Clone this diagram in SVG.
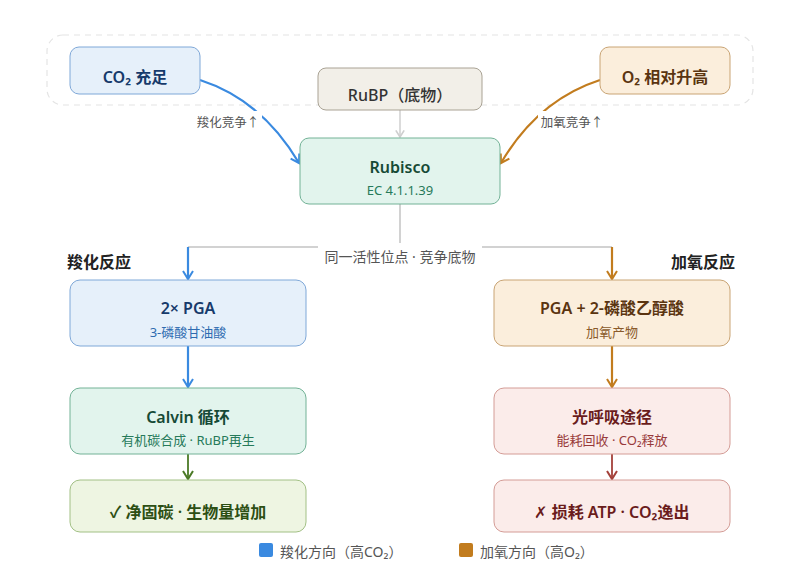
<svg xmlns="http://www.w3.org/2000/svg" width="800" height="588" viewBox="0 0 800 588">
<defs>
<style>
text{font-family:"Noto Sans","Noto Sans CJK SC",sans-serif;text-anchor:middle}
.t{font-size:16px;font-weight:600}
.s{font-size:13px}
.lbl{font-size:12.5px;fill:#555}
.mid{font-size:14px;fill:#555}
.sec{font-size:16px;font-weight:700;fill:#222}
.leg{font-size:14px;fill:#555;text-anchor:start}
.blue rect{fill:#e6f0fa;stroke:#7fa8d8}
.blue .t{fill:#163a6b}.blue .s{fill:#2e6bb0}
.org rect{fill:#fbeedc;stroke:#c9a474}
.org .t{fill:#5a3410}.org .s{fill:#8a5a2a}
.grn rect{fill:#e2f4ed;stroke:#72b296}
.grn .t{fill:#164a36}.grn .s{fill:#267a5a}
.lime rect{fill:#eef5e2;stroke:#a2c085}
.lime .t{fill:#2d4f14}
.red rect{fill:#fbecea;stroke:#d49c96}
.red .t{fill:#6a1c1c}.red .s{fill:#983a3a}
.grey rect{fill:#f2efe8;stroke:#a9a294}
.grey .t{fill:#333;font-weight:500}
.node rect{stroke-width:1}
</style>
<marker id="aB" viewBox="0 0 12 12" refX="10" refY="6" markerWidth="12" markerHeight="12" markerUnits="userSpaceOnUse" orient="auto"><path d="M2,1 L10,6 L2,11" fill="none" stroke="#3a8ae0" stroke-width="2"/></marker>
<marker id="aO" viewBox="0 0 12 12" refX="10" refY="6" markerWidth="12" markerHeight="12" markerUnits="userSpaceOnUse" orient="auto"><path d="M2,1 L10,6 L2,11" fill="none" stroke="#c27c1e" stroke-width="2"/></marker>
<marker id="aG" viewBox="0 0 12 12" refX="10" refY="6" markerWidth="10" markerHeight="10" markerUnits="userSpaceOnUse" orient="auto"><path d="M2,1 L10,6 L2,11" fill="none" stroke="#cfcfcf" stroke-width="2"/></marker>
<marker id="aL" viewBox="0 0 12 12" refX="10" refY="6" markerWidth="12" markerHeight="12" markerUnits="userSpaceOnUse" orient="auto"><path d="M2,1 L10,6 L2,11" fill="none" stroke="#4b7a26" stroke-width="2"/></marker>
<marker id="aR" viewBox="0 0 12 12" refX="10" refY="6" markerWidth="12" markerHeight="12" markerUnits="userSpaceOnUse" orient="auto"><path d="M2,1 L10,6 L2,11" fill="none" stroke="#a4413a" stroke-width="2"/></marker>
</defs>
<rect width="800" height="588" fill="#ffffff"/>
<rect x="47" y="35" width="706" height="70" rx="16" fill="none" stroke="#e4e4e4" stroke-width="1.2" stroke-dasharray="6 5"/>

<g id="connectors" fill="none">
<line x1="400" y1="110" x2="400" y2="137" stroke="#cfcfcf" stroke-width="1.5" marker-end="url(#aG)"/>
<path d="M200,80 Q262,100 299,163" stroke="#3a8ae0" stroke-width="2.2" marker-end="url(#aB)"/>
<path d="M600,80 Q538,100 501,163" stroke="#c27c1e" stroke-width="2.2" marker-end="url(#aO)"/>
<path d="M400,204 L400,247 M188,247 L612,247" stroke="#d2d2d2" stroke-width="2"/>
<line x1="188" y1="247" x2="188" y2="279" stroke="#3a8ae0" stroke-width="2.2" marker-end="url(#aB)"/>
<line x1="612" y1="247" x2="612" y2="279" stroke="#c27c1e" stroke-width="2.2" marker-end="url(#aO)"/>
<line x1="188" y1="346" x2="188" y2="387" stroke="#3a8ae0" stroke-width="2.2" marker-end="url(#aB)"/>
<line x1="612" y1="346" x2="612" y2="387" stroke="#c27c1e" stroke-width="2.2" marker-end="url(#aO)"/>
<line x1="188" y1="454" x2="188" y2="479" stroke="#4b7a26" stroke-width="1.8" marker-end="url(#aL)"/>
<line x1="612" y1="454" x2="612" y2="479" stroke="#a4413a" stroke-width="1.8" marker-end="url(#aR)"/>
<rect x="194" y="111" width="68" height="20" fill="#ffffff"/>
<text class="lbl" x="228" y="127">羧化竞争↑</text>
<rect x="538" y="111" width="68" height="20" fill="#ffffff"/>
<text class="lbl" x="572" y="127">加氧竞争↑</text>
<rect x="318" y="243" width="164" height="26" fill="#ffffff"/>
<text class="mid" x="400" y="262">同一活性位点 · 竞争底物</text>
</g>

<g id="co2" class="node blue"><rect x="70" y="47" width="130" height="47" rx="9"/><text class="t" x="135" y="83">CO₂ 充足</text></g>
<g id="o2" class="node org"><rect x="600" y="47" width="130" height="47" rx="9"/><text class="t" x="665" y="83">O₂ 相对升高</text></g>
<g id="rubp" class="node grey"><rect x="318" y="68" width="164" height="42" rx="8"/><text class="t" x="400" y="101">RuBP（底物）</text></g>
<g id="rubisco" class="node grn"><rect x="300" y="138" width="200" height="66" rx="9"/><text class="t" x="400" y="173">Rubisco</text><text class="s" x="400" y="195">EC 4.1.1.39</text></g>

<text id="sec-carb" class="sec" x="67" y="268" style="text-anchor:start">羧化反应</text>
<text id="sec-oxy" class="sec" x="735" y="268" style="text-anchor:end">加氧反应</text>

<g id="pga" class="node blue"><rect x="70" y="280" width="236" height="66" rx="10"/><text class="t" x="188" y="314">2× PGA</text><text class="s" x="188" y="337">3-磷酸甘油酸</text></g>
<g id="pga2" class="node org"><rect x="494" y="280" width="236" height="66" rx="10"/><text class="t" x="612" y="314">PGA + 2-磷酸乙醇酸</text><text class="s" x="612" y="337">加氧产物</text></g>
<g id="calvin" class="node grn"><rect x="70" y="388" width="236" height="66" rx="10"/><text class="t" x="188" y="423">Calvin 循环</text><text class="s" x="188" y="445">有机碳合成 · RuBP再生</text></g>
<g id="photoresp" class="node red"><rect x="494" y="388" width="236" height="66" rx="10"/><text class="t" x="612" y="423">光呼吸途径</text><text class="s" x="612" y="445">能耗回收 · CO₂释放</text></g>
<g id="netfix" class="node lime"><rect x="70" y="480" width="236" height="52" rx="10"/><text class="t" x="188" y="518">✓ 净固碳 · 生物量增加</text></g>
<g id="loss" class="node red"><rect x="494" y="480" width="236" height="52" rx="10"/><text class="t" x="612" y="518"><tspan style="font-weight:400">✗</tspan> 损耗 ATP · CO₂逸出</text></g>

<g id="legend">
<rect x="259" y="543" width="14" height="14" rx="2" fill="#3a8ae0"/>
<text class="leg" x="280" y="557">羧化方向（高CO₂）</text>
<rect x="459" y="543" width="14" height="14" rx="2" fill="#c27c1e"/>
<text class="leg" x="480" y="557">加氧方向（高O₂）</text>
</g>
</svg>
